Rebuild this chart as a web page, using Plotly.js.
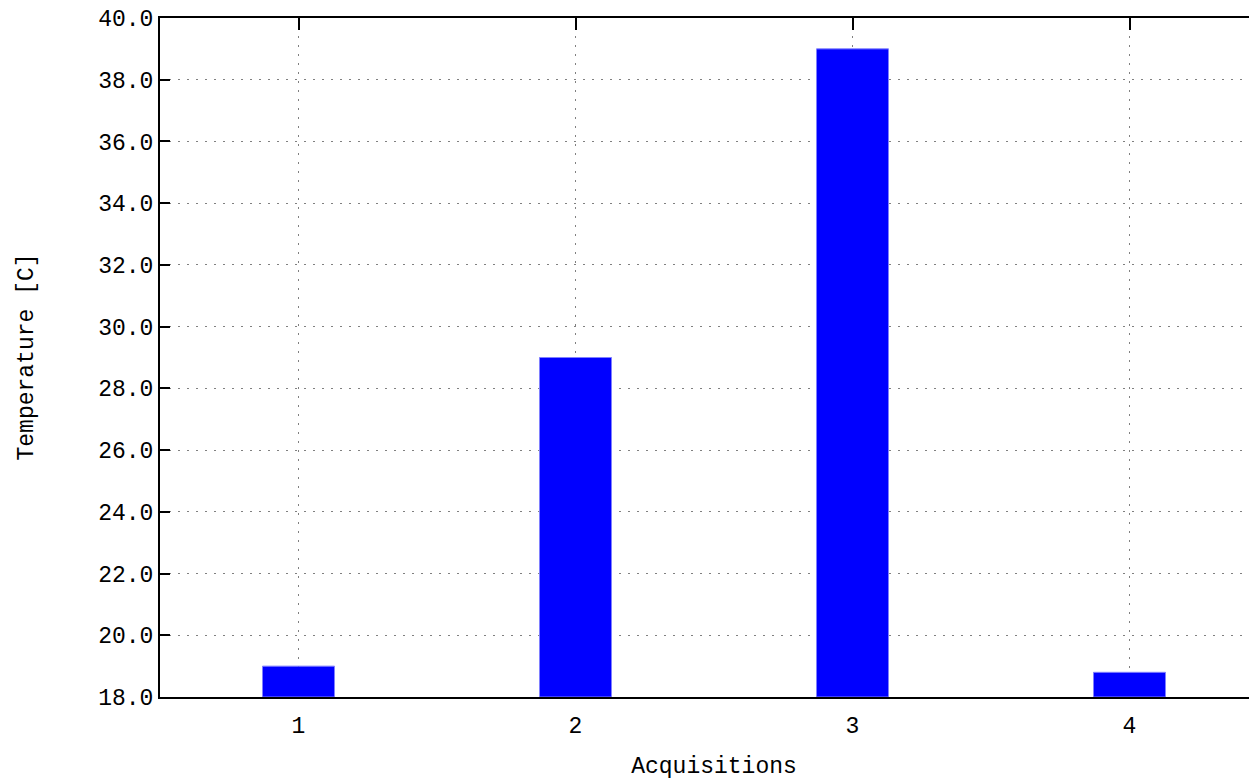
<!DOCTYPE html>
<html><head><meta charset="utf-8">
<script src="https://cdn.plot.ly/plotly-3.0.1.min.js"></script>
<style>html,body{margin:0;padding:0;overflow:hidden;width:1249px;height:782px;background:#fff}</style>
</head><body><div id="plot"></div>
<script>
const acquisitions = [1, 2, 3, 4];
const temperatures = [19.0, 29.0, 39.0, 18.8];
const yTicks = [18, 20, 22, 24, 26, 28, 30, 32, 34, 36, 38, 40];
const xTicks = [1, 2, 3, 4];
const baseTemp = 18;
const font = {family: 'Liberation Mono, Courier New, monospace', size: 23, color: '#000'};

const trace = {
  type: 'bar', x: acquisitions, y: temperatures.map(v => v - baseTemp), base: baseTemp, width: 0.26,
  marker: {color: '#0000ff', line: {color: '#8080ff', width: 1}},
  hoverinfo: 'x+y'
};
const helper = {type: 'scatter', mode: 'markers', x: [acquisitions[0]], y: [baseTemp], xaxis: 'x2', yaxis: 'y',
  marker: {opacity: 0}, hoverinfo: 'skip'};

const xRange = [0.5, 4.5];
const gridDash = '2px,7px';
const layout = {
  width: 1268, height: 782,
  margin: {l: 160, r: 0, t: 18, b: 85},
  paper_bgcolor: '#fff', plot_bgcolor: '#fff',
  font: font, showlegend: false,
  xaxis: {
    range: xRange, tickmode: 'array', tickvals: xTicks, ticktext: xTicks.map(String),
    ticks: '', showline: true, linecolor: '#000', linewidth: 2,
    showgrid: true, gridcolor: '#808080', griddash: gridDash, gridwidth: 1,
    zeroline: false, ticklabelstandoff: 6, tickfont: font,
    title: {text: 'Acquisitions', font: font, standoff: 18}
  },
  xaxis2: {
    overlaying: 'x', side: 'top', anchor: 'y',
    range: xRange, tickmode: 'array', tickvals: xTicks, ticks: 'inside', ticklen: 12, tickwidth: 2, tickcolor: '#000',
    showticklabels: false, showline: true, linecolor: '#000', linewidth: 2, showgrid: false, zeroline: false
  },
  yaxis: {
    range: [18, 40], tickmode: 'array', tickvals: yTicks, ticktext: yTicks.map(v => v.toFixed(1)),
    ticks: 'inside', ticklen: 10, tickwidth: 2, tickcolor: '#000',
    showline: true, linecolor: '#000', linewidth: 2,
    showgrid: true, gridcolor: '#808080', griddash: gridDash, gridwidth: 1,
    zeroline: false, tickfont: font
  },
  annotations: [{
    text: 'Temperature [C]', textangle: -90, font: font, showarrow: false,
    xref: 'paper', yref: 'paper', x: 0, y: 0.5, xanchor: 'center', yanchor: 'middle', xshift: -134
  }]
};
Plotly.newPlot('plot', [trace, helper], layout, {displayModeBar: false, staticPlot: true});
</script></body></html>
